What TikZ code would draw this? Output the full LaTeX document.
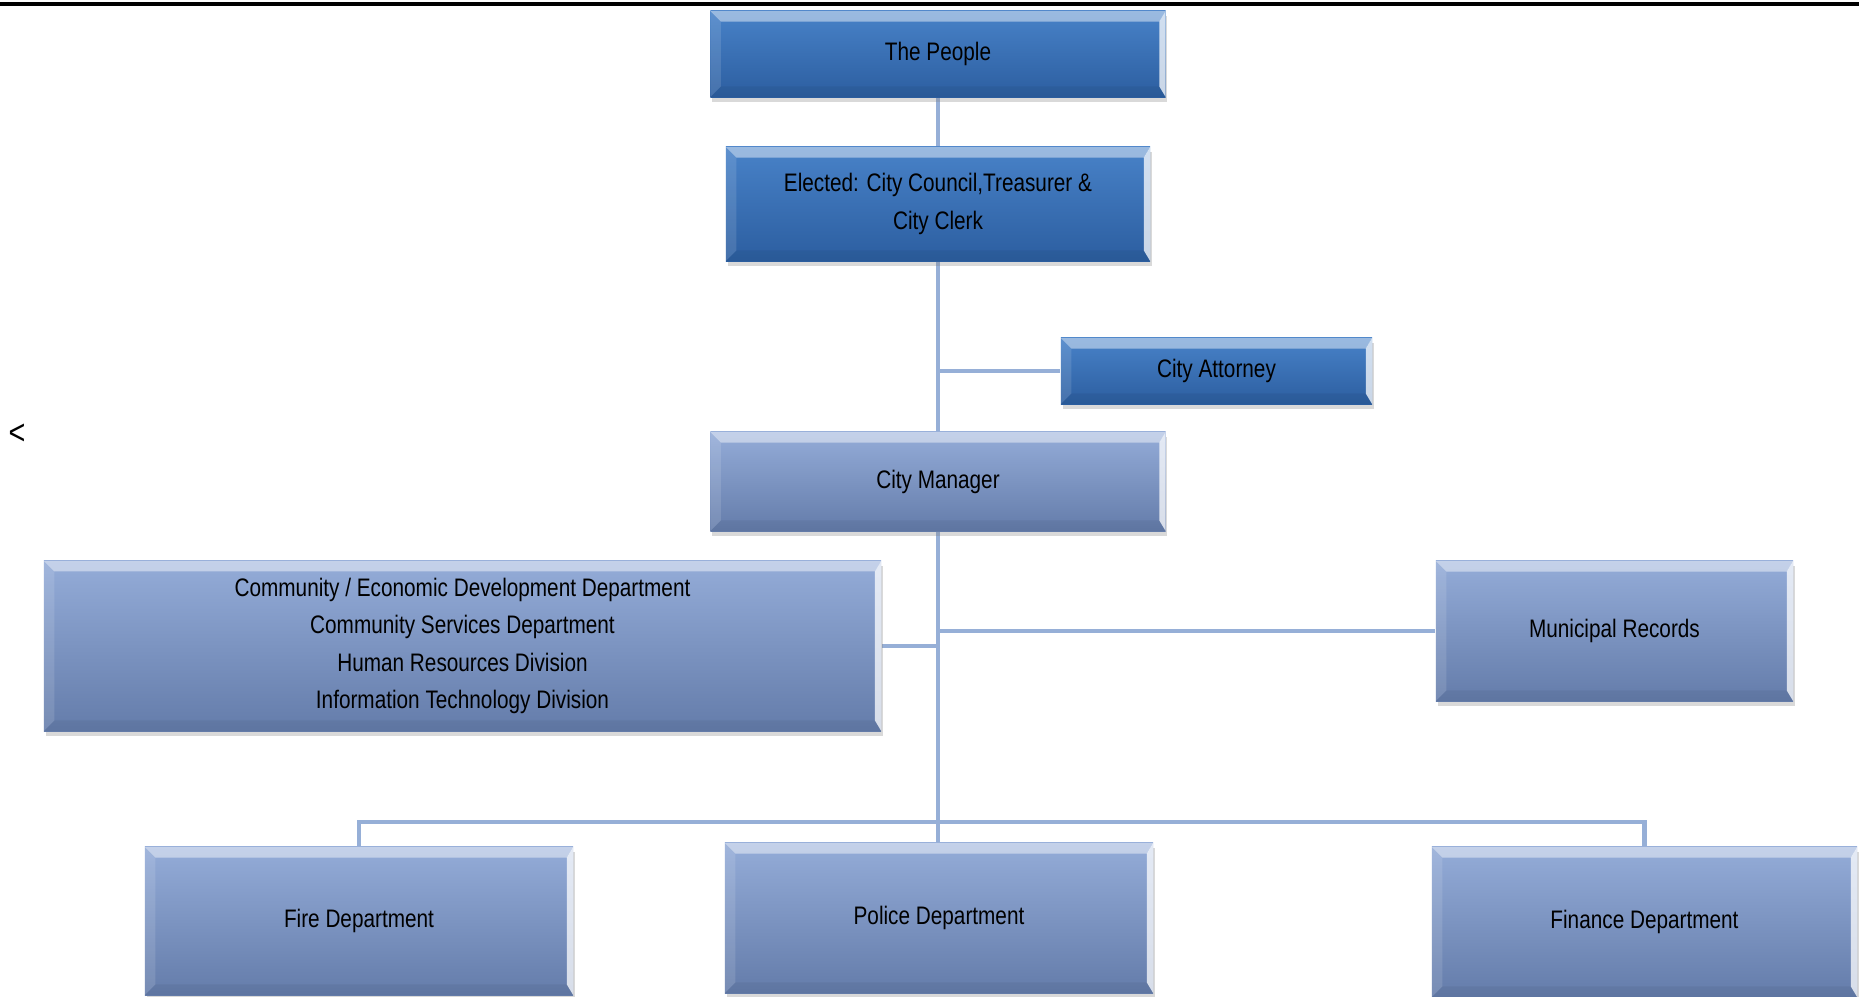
\documentclass[tikz,border=0pt]{standalone}
\usepackage{fontspec}
\setmainfont{Liberation Sans}[FakeStretch=0.82]
\usetikzlibrary{shadows,backgrounds}
\definecolor{darktop}{RGB}{72,130,200}
\definecolor{darkbot}{RGB}{44,94,160}
\definecolor{lighttop}{RGB}{148,172,216}
\definecolor{lightbot}{RGB}{100,124,170}
\definecolor{linkblue}{RGB}{150,175,215}
\newcommand{\bv}{3pt}
\newcommand{\bvr}{1.8pt}

\begin{document}
\begin{tikzpicture}[x=0.01cm,y=-0.01cm,
  bevel/.style={inner sep=0pt, align=center, font=\fontsize{7.2}{10.6}\selectfont,
    drop shadow={shadow xshift=0.5pt,shadow yshift=-1.5pt,opacity=0.3},
    path picture={
      \fill[white,opacity=0.45] (path picture bounding box.north west) -- (path picture bounding box.north east)
        -- ([shift={(-\bvr,-\bv)}]path picture bounding box.north east) -- ([shift={(\bv,-\bv)}]path picture bounding box.north west) -- cycle;
      \fill[white,opacity=0.75] (path picture bounding box.north east) -- (path picture bounding box.south east)
        -- ([shift={(-\bvr,\bv)}]path picture bounding box.south east) -- ([shift={(-\bvr,-\bv)}]path picture bounding box.north east) -- cycle;
      \fill[white,opacity=0.12] (path picture bounding box.north west) -- (path picture bounding box.south west)
        -- ([shift={(\bv,\bv)}]path picture bounding box.south west) -- ([shift={(\bv,-\bv)}]path picture bounding box.north west) -- cycle;
      \fill[black,opacity=0.05] (path picture bounding box.south west) -- (path picture bounding box.south east)
        -- ([shift={(-\bvr,\bv)}]path picture bounding box.south east) -- ([shift={(\bv,\bv)}]path picture bounding box.south west) -- cycle;
    }},
  darkbox/.style={bevel, top color=darktop, bottom color=darkbot},
  lightbox/.style={bevel, top color=lighttop, bottom color=lightbot},
  link/.style={draw=linkblue, line width=1.4pt}]
\useasboundingbox (0,0) rectangle (1859,997);
\draw [line width=1.1pt] (0,4)--(1859,4);

\node[darkbox, minimum width=4.55cm, minimum height=0.86cm] (people) at (938,54) {The People};
\node[darkbox, minimum width=4.24cm, minimum height=1.14cm] (elected) at (938,204) {Elected: City Council,Treasurer \&\\City Clerk};
\node[darkbox, minimum width=3.11cm, minimum height=0.66cm] (attorney) at (1216.5,371) {City Attorney};
\node[lightbox, minimum width=4.55cm, minimum height=0.99cm] (manager) at (938,481.5) {City Manager};
\node[lightbox, minimum width=8.37cm, minimum height=1.70cm] (depts) at (462.5,646) {Community / Economic Development Department\\Community Services Department\\Human Resources Division\\Information Technology Division};
\node[lightbox, minimum width=3.57cm, minimum height=1.40cm] (records) at (1614.5,631) {Municipal Records};
\node[lightbox, minimum width=4.28cm, minimum height=1.48cm] (fire) at (359,921) {Fire Department};
\node[lightbox, minimum width=4.28cm, minimum height=1.50cm] (police) at (939,918) {Police Department};
\node[lightbox, minimum width=4.25cm, minimum height=1.50cm] (finance) at (1644.5,922) {Finance Department};

\node (lt) at (17,434) {<};
\coordinate (bus) at (938,822);

% connectors behind the boxes
\begin{scope}[on background layer]
\path[link] (people.south) -- (elected.north);
\path[link] (elected.south) -- (elected.south |- police.north);
\path[link] (attorney.west) -- (attorney.west -| elected.south);
\path[link] (depts.east) -- (depts.east -| elected.south);
\path[link] (records.west) -- (records.west -| elected.south);
\path[link] (fire.north) |- (bus) -| (finance.north);
\end{scope}
\end{tikzpicture}
\end{document}
